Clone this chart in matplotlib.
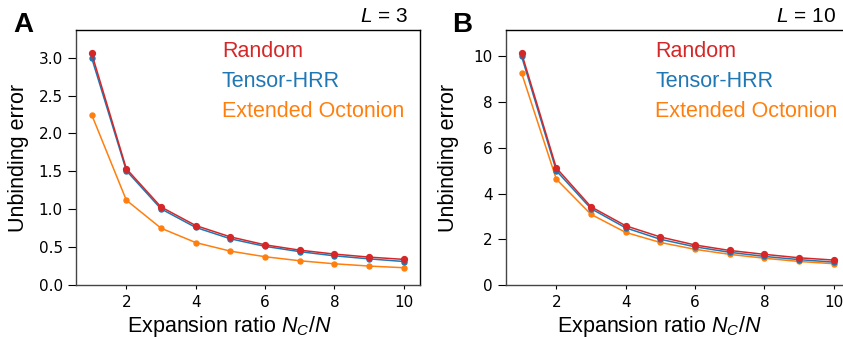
import matplotlib as mpl
mpl.use("Agg")
import matplotlib.pyplot as plt
import numpy as np

# expansion ratio N_C/N
ratio = [1, 2, 3, 4, 5, 6, 7, 8, 9, 10]

# L = 3
random_l3 = [3.06, 1.535, 1.03, 0.785, 0.635, 0.53, 0.46, 0.408, 0.368, 0.338]
tensor_l3 = [3.00, 1.51, 1.005, 0.76, 0.61, 0.51, 0.44, 0.385, 0.345, 0.31]
octo_l3 = [2.25, 1.12, 0.75, 0.56, 0.447, 0.373, 0.32, 0.28, 0.25, 0.228]

# L = 10
random_l10 = [10.14, 5.12, 3.42, 2.59, 2.10, 1.75, 1.51, 1.34, 1.19, 1.09]
tensor_l10 = [10.0, 5.0, 3.34, 2.50, 2.00, 1.67, 1.43, 1.25, 1.11, 1.00]
octo_l10 = [9.27, 4.63, 3.09, 2.30, 1.86, 1.56, 1.34, 1.17, 1.03, 0.93]

series_names = ["Random", "Tensor-HRR", "Extended Octonion"]
colors = ["#d62728", "#1f77b4", "#ff7f0e"]

panels = [
    ("A", "3", [random_l3, tensor_l3, octo_l3], np.arange(0, 3.01, 0.5), "{:.1f}"),
    ("B", "10", [random_l10, tensor_l10, octo_l10], np.arange(0, 10.1, 2), "{:.0f}"),
]

mpl.rcParams["mathtext.fontset"] = "custom"
mpl.rcParams["mathtext.it"] = "Liberation Sans:italic"
mpl.rcParams["mathtext.rm"] = "Liberation Sans"

W, H = 843, 339
fig = plt.figure(figsize=(W / 100, H / 100), dpi=100)

# axes boxes in pixels: left, top, width, height
boxes = [(76, 30, 343.5, 255), (506, 30, 343.5, 255)]
legend_x = [0.425, 0.434]
letter_x = [13, 452]
L_right = [408.5, 835.5]

for i, (letter, L, data, yticks, fmt) in enumerate(panels):
    l, t, w, h = boxes[i]
    ax = fig.add_axes([l / W, 1 - (t + h) / H, w / W, h / H])

    # draw orange first, red on top
    for vals, c, ms in zip(data[::-1], colors[::-1], [3.6, 3.6, 4.2]):
        ax.plot(ratio, vals, color=c, marker="o", ms=ms, lw=1.1)

    ymax = 1.1 * max(data[0])
    ax.set_ylim(0, ymax)
    ax.set_xticks([2, 4, 6, 8, 10])
    ax.set_yticks(yticks)
    ax.set_yticklabels([fmt.format(v) for v in yticks])
    ax.tick_params(axis="y", length=5.5, width=0.8, labelsize=11, pad=4)
    ax.tick_params(axis="x", length=3, width=0.8, labelsize=11, pad=4)
    for s in ax.spines.values():
        s.set_linewidth(1.0)
    ax.spines["left"].set_color("#444444")
    ax.spines["bottom"].set_color("#444444")

    ax.set_ylabel("Unbinding error", fontsize=15.5, family="Liberation Sans")
    ax.yaxis.set_label_coords(-0.137, 0.5)
    ax.set_xlabel("Expansion ratio $N_C/N$", fontsize=15.5, family="Liberation Sans")
    ax.xaxis.set_label_coords(0.445, -0.112)

    for name, c, y in zip(series_names, colors, [0.893, 0.778, 0.660]):
        ax.text(legend_x[i], y, name, color=c, fontsize=15.5,
                family="Liberation Sans", transform=ax.transAxes,
                ha="left", va="baseline")

    fig.text(letter_x[i] / W, 1 - 32 / H, letter, fontsize=20, fontweight="bold",
             family="Liberation Sans", ha="left", va="baseline")
    fig.text(L_right[i] / W, 1 - 21.7 / H, "$L$ = " + L, fontsize=15,
             family="Liberation Sans", ha="right", va="baseline")

fig.savefig("out.png", dpi=100, facecolor="white")
